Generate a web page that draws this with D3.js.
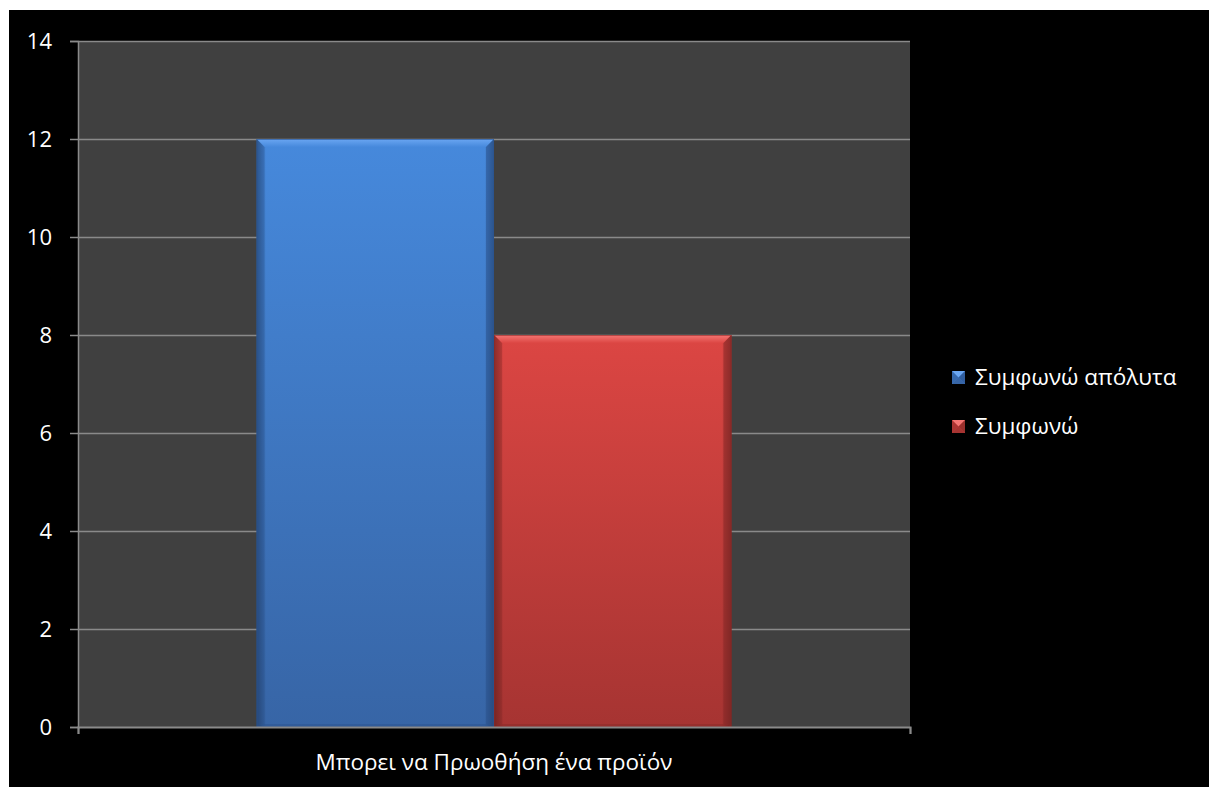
<!DOCTYPE html>
<html>
<head>
<meta charset="utf-8">
<script src="https://cdn.jsdelivr.net/npm/d3@7"></script>
<style>
  html, body { margin: 0; padding: 0; background: #fff; }
  svg { display: block; }
  text { font-family: "Open Sans", "Noto Sans", sans-serif; fill: #fff; }
</style>
</head>
<body>
<svg id="chart" width="1209" height="787"></svg>
<script>
// Chart data
const categories = ["Μπορει να Πρωοθήση ένα προϊόν"];
const seriesNames = ["Συμφωνώ απόλυτα", "Συμφωνώ"];
const seriesValues = [[12], [8]]; // one value per category, per series
const yTicks = [0, 2, 4, 6, 8, 10, 12, 14];

const palette = [
  { top: "#4689dc", bottom: "#3765a6", light: "#6aa6f2", dark: "#2c5490" },
  { top: "#dc4643", bottom: "#a63432", light: "#f47673", dark: "#8a2a28" }
];

const W = 1209, H = 787;
const plot = { left: 78, right: 910, top: 41, bottom: 727 };

const svg = d3.select("#chart");

// Page frame: black chart area
svg.append("rect").attr("x", 9).attr("y", 10)
  .attr("width", W - 9).attr("height", H - 10).attr("fill", "#000");

const y = d3.scaleLinear().domain([0, 14]).range([plot.bottom, plot.top]);
const x0 = d3.scaleBand().domain(categories).range([plot.left, plot.right])
  .paddingInner(0).paddingOuter(0.376);
const x1 = d3.scaleBand().domain(seriesNames).range([0, x0.bandwidth()]).padding(0);

// Plot background
svg.append("rect")
  .attr("x", plot.left).attr("y", plot.top)
  .attr("width", plot.right - plot.left).attr("height", plot.bottom - plot.top)
  .attr("fill", "#404040");

// Gridlines
svg.append("g").selectAll("line").data(yTicks.filter(d => d > 0)).join("line")
  .attr("x1", plot.left).attr("x2", plot.right)
  .attr("y1", d => y(d) + 0.5).attr("y2", d => y(d) + 0.5)
  .attr("stroke", "#8a8a8a").attr("stroke-width", 1.5);

// Gradients for bars
const defs = svg.append("defs");
palette.forEach((p, i) => {
  const g = defs.append("linearGradient").attr("id", "grad" + i)
    .attr("x1", 0).attr("y1", 0).attr("x2", 0).attr("y2", 1);
  g.append("stop").attr("offset", "0%").attr("stop-color", p.top);
  g.append("stop").attr("offset", "100%").attr("stop-color", p.bottom);
  const s = defs.append("linearGradient").attr("id", "side" + i)
    .attr("x1", 0).attr("y1", 0).attr("x2", 1).attr("y2", 0);
  s.append("stop").attr("offset", "0%").attr("stop-color", "#000").attr("stop-opacity", 0.35);
  s.append("stop").attr("offset", "4%").attr("stop-color", "#000").attr("stop-opacity", 0.0);
  s.append("stop").attr("offset", "96%").attr("stop-color", "#000").attr("stop-opacity", 0.0);
  s.append("stop").attr("offset", "100%").attr("stop-color", "#000").attr("stop-opacity", 0.35);
  const t = defs.append("linearGradient").attr("id", "topb" + i)
    .attr("x1", 0).attr("y1", 0).attr("x2", 0).attr("y2", 1);
  t.append("stop").attr("offset", "0%").attr("stop-color", p.light);
  t.append("stop").attr("offset", "100%").attr("stop-color", p.top);
});

// Bars
const bevel = 8;
const bars = [];
categories.forEach((c, ci) => {
  seriesNames.forEach((s, si) => {
    bars.push({ cat: c, series: s, si, value: seriesValues[si][ci] });
  });
});

const barG = svg.append("g").selectAll("g").data(bars).join("g");
barG.each(function (d) {
  const g = d3.select(this);
  const bx = x0(d.cat) + x1(d.series);
  const bw = x1.bandwidth();
  const by = y(d.value);
  const bh = y(0) - by;
  const p = palette[d.si];
  g.append("rect").attr("x", bx).attr("y", by).attr("width", bw).attr("height", bh)
    .attr("fill", `url(#grad${d.si})`);
  // side shading
  g.append("rect").attr("x", bx).attr("y", by).attr("width", bw).attr("height", bh)
    .attr("fill", `url(#side${d.si})`);
  // top bevel
  g.append("path")
    .attr("d", `M${bx},${by}L${bx + bw},${by}L${bx + bw - bevel},${by + bevel}L${bx + bevel},${by + bevel}Z`)
    .attr("fill", `url(#topb${d.si})`);
  // left and right bevels
  g.append("path")
    .attr("d", `M${bx},${by}L${bx + bevel},${by + bevel}L${bx + bevel},${by + bh - 3}L${bx},${by + bh}Z`)
    .attr("fill", p.dark).attr("opacity", 0.35);
  g.append("path")
    .attr("d", `M${bx + bw},${by}L${bx + bw - bevel},${by + bevel}L${bx + bw - bevel},${by + bh - 3}L${bx + bw},${by + bh}Z`)
    .attr("fill", p.dark).attr("opacity", 0.55);
  // bottom bevel
  g.append("path")
    .attr("d", `M${bx},${by + bh}L${bx + bevel},${by + bh - 3}L${bx + bw - bevel},${by + bh - 3}L${bx + bw},${by + bh}Z`)
    .attr("fill", p.dark).attr("opacity", 0.5);
  g.append("rect").attr("x", bx + 0.5).attr("y", by + 0.5).attr("width", bw - 1).attr("height", bh - 1)
    .attr("fill", "none").attr("stroke", p.dark).attr("stroke-opacity", 0.6);
});

// Axes
const axisColor = "#8a8a8a";
const yAxis = svg.append("g").attr("transform", `translate(${plot.left},0)`)
  .call(d3.axisLeft(y).tickValues(yTicks).tickSize(8).tickPadding(18).tickFormat(d3.format("d")));
yAxis.select(".domain").attr("stroke", axisColor).attr("stroke-width", 1.5);
yAxis.selectAll(".tick line").attr("stroke", axisColor).attr("stroke-width", 1.5);
yAxis.selectAll(".tick text").attr("fill", "#fff").style("font-size", "22px");

const xAxis = svg.append("g").attr("transform", `translate(0,${plot.bottom})`)
  .call(d3.axisBottom(d3.scaleLinear().domain([0, 1]).range([plot.left, plot.right]))
    .tickValues([0, 1]).tickSize(7).tickFormat(""));
xAxis.select(".domain").attr("stroke", axisColor).attr("stroke-width", 2);
xAxis.selectAll(".tick line").attr("stroke", axisColor).attr("stroke-width", 1.5);

// Category label
svg.append("g").selectAll("text").data(categories).join("text")
  .attr("x", d => x0(d) + x0.bandwidth() / 2).attr("y", 770)
  .attr("text-anchor", "middle").style("font-size", "22.5px")
  .text(d => d);

// Legend
const legend = svg.append("g").attr("transform", "translate(952,371)");
const items = legend.selectAll("g").data(seriesNames).join("g")
  .attr("transform", (d, i) => `translate(0,${i * 49})`);
items.each(function (d, i) {
  const g = d3.select(this);
  const p = palette[i];
  const s = 13, c = s / 2;
  g.append("rect").attr("width", s).attr("height", s).attr("fill", p.top);
  g.append("path").attr("d", `M0,0L${s},0L${c},${c}Z`).attr("fill", p.light);
  g.append("path").attr("d", `M0,${s}L${s},${s}L${c},${c}Z`).attr("fill", p.bottom);
  g.append("path").attr("d", `M0,0L0,${s}L${c},${c}Z`).attr("fill", p.dark).attr("opacity", 0.6);
  g.append("path").attr("d", `M${s},0L${s},${s}L${c},${c}Z`).attr("fill", p.dark).attr("opacity", 0.8);
  g.append("text").attr("x", 23).attr("y", 14).style("font-size", "22.5px").text(d);
});
</script>
</body>
</html>
